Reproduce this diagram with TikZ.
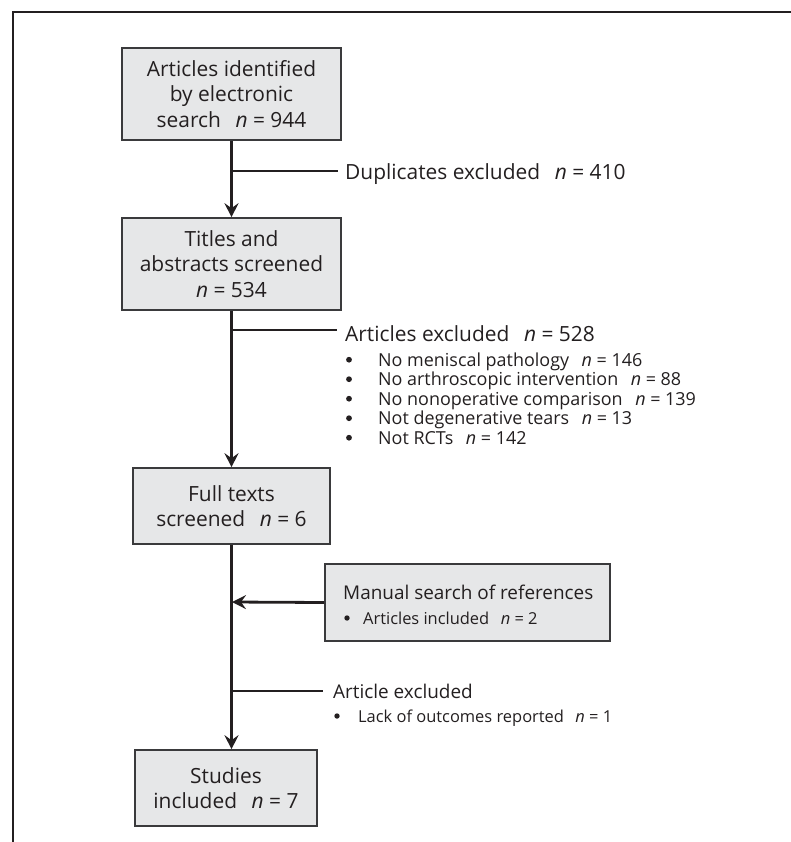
\documentclass[tikz,border=0pt]{standalone}
\usepackage{fontspec}
\setmainfont{Open Sans}
\usetikzlibrary{arrows.meta}
\definecolor{ink}{HTML}{231F20}
\definecolor{boxfill}{HTML}{E6E7E8}
\definecolor{boxline}{HTML}{3A3A3C}
\newcommand{\nn}[1]{\hspace{0.7em}\textit{n} = #1}
\tikzset{
  flowbox/.style={draw=boxline, fill=boxfill, line width=1.6bp, align=center, inner sep=0pt,
    text=ink, font=\fontsize{21}{25.5}\selectfont},
  mainline/.style={draw=ink, line width=2.8bp},
  arr/.style={mainline, -{Stealth[length=14bp,width=14bp,inset=5bp]}},
  branch/.style={draw=ink, line width=2.2bp},
  headtext/.style={anchor=base west, inner sep=0pt, text=ink, font=\fontsize{21}{25}\selectfont},
  lowhead/.style={anchor=base west, inner sep=0pt, text=ink, font=\fontsize{19}{23}\selectfont},
  subtext/.style={anchor=base west, inner sep=0pt, text=ink, font=\fontsize{18}{20}\selectfont},
  lowsub/.style={anchor=base west, inner sep=0pt, text=ink, font=\fontsize{16.5}{19}\selectfont},
  bulletdot/.style={fill=ink},
}
\begin{document}
\begin{tikzpicture}[x=1bp,y=-1bp]
\useasboundingbox (0,0) rectangle (791,842);
% frame
\draw[draw=ink, line width=1.3bp] (13,842) -- (13,12) -- (791,12);
% boxes
\node[flowbox, minimum width=219bp, minimum height=92bp] (b1) at (231.5,94) {Articles identified\\by electronic\\search\nn{944}};
\node[flowbox, minimum width=219bp, minimum height=92bp] (b2) at (231.5,264) {Titles and\\abstracts screened\\\textit{n} = 534};
\node[flowbox, minimum width=197bp, minimum height=76bp] (b3) at (231.5,506) {Full texts\\screened\nn{6}};
\node[flowbox, minimum width=182bp, minimum height=76bp] (b4) at (226,788) {Studies\\included\nn{7}};
\node[draw=boxline, fill=boxfill, line width=1.6bp, inner sep=0pt, minimum width=285bp, minimum height=77bp] (m) at (467.5,602.5) {};
% main flow
\draw[arr] (b1.south) -- (b2.north);
\draw[arr] (b2.south) -- (b3.north);
\draw[arr] (b3.south) -- (b3.south |- b4.north);
% branch points
\coordinate (j1) at (232,171);
\coordinate (j2) at (232,330);
\coordinate (j3) at (232,602);
\coordinate (j4) at (232,691);
\coordinate (e1) at (338,171);
\coordinate (e2) at (337,330);
\coordinate (e4) at (323,691);
% texts
\node[headtext] (t1) at (345,179) {Duplicates excluded\nn{410}};
\node[headtext] (t2) at (345,341) {Articles excluded\nn{528}};
\node[subtext] (t2a) at (378,366) {No meniscal pathology\nn{146}};
\node[subtext] (t2b) at (378,385.5) {No arthroscopic intervention\nn{88}};
\node[subtext] (t2c) at (378,405) {No nonoperative comparison\nn{139}};
\node[subtext] (t2d) at (378,424.5) {Not degenerative tears\nn{13}};
\node[subtext] (t2e) at (378,444) {Not RCTs\nn{142}};
\foreach \yy in {366,385.5,405,424.5,444}
  \fill[bulletdot] (349,\yy-6.3) circle (2.9);
\node[lowhead] (t3) at (343,599) {Manual search of references};
\node[lowsub] (t3a) at (363,624) {Articles included\nn{2}};
\fill[bulletdot] (347,618) circle (2.7);
\node[lowhead] (t4) at (333,698) {Article excluded};
\node[lowsub] (t4a) at (358,722) {Lack of outcomes reported\nn{1}};
\fill[bulletdot] (337,716) circle (2.7);
% branch lines
\draw[branch] (j1) -- (e1);
\draw[branch] (j2) -- (e2);
\draw[branch] (j4) -- (e4);
\draw[arr] (m.west) -- (j3);
\end{tikzpicture}
\end{document}
